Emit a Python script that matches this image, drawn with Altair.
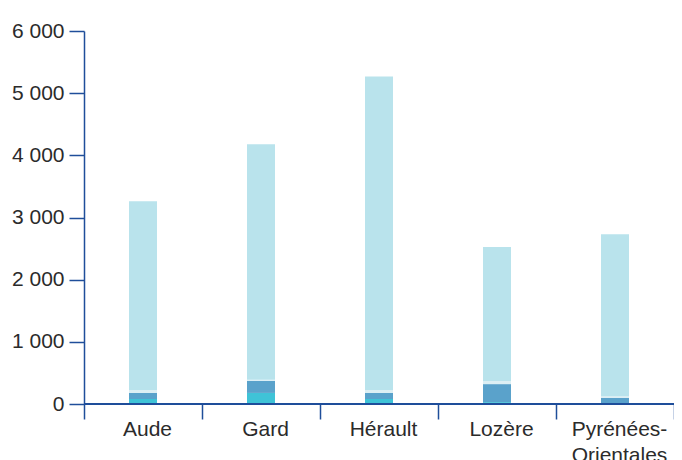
import altair as alt
import pandas as pd

departements = ["Aude", "Gard", "Hérault", "Lozère", "Pyrénées-Orientales"]
series = ["Série 1", "Série 2", "Série 3", "Série 4"]
serie1 = [80, 178, 80, 30, 15]
serie2 = [100, 195, 100, 290, 85]
serie3 = [45, 17, 45, 50, 25]
serie4 = [3035, 3790, 5045, 2154, 2605]
colors = ["#3FC3D7", "#5AA2CB", "#DCEFF4", "#B9E3EC"]
y_ticks = [0, 1000, 2000, 3000, 4000, 5000, 6000]

rows = []
for i, d in enumerate(departements):
    for k, (s, vals) in enumerate(zip(series, [serie1, serie2, serie3, serie4])):
        rows.append({"dep": d, "serie": s, "ordre": k, "valeur": vals[i]})
df = pd.DataFrame(rows)

axis_color = "#1F4E9A"
font = "Liberation Sans"

bars = alt.Chart(df).mark_bar(size=28).encode(
    x=alt.X("dep:N", sort=departements, title=None,
            scale=alt.Scale(paddingInner=0, paddingOuter=0),
            axis=alt.Axis(labelAngle=0, tickBand="extent", tickSize=15,
                          tickColor=axis_color, tickWidth=1.5,
                          domain=False, labelFont=font, labelFontSize=21,
                          labelColor="#2b2b2b", labelPadding=-1,
                          labelLineHeight=26, labelOffset=4,
                          labelExpr="datum.value == 'Pyrénées-Orientales' ? ['Pyrénées-', 'Orientales'] : datum.value")),
    y=alt.Y("valeur:Q", stack="zero", title=None,
            scale=alt.Scale(domain=[0, 6000], nice=False),
            axis=alt.Axis(values=y_ticks, tickSize=15, tickColor=axis_color,
                          tickWidth=1.5, domainColor=axis_color, domainWidth=1.5,
                          grid=False, labelFont=font, labelFontSize=21,
                          labelColor="#2b2b2b", labelPadding=5,
                          labelExpr="replace(format(datum.value, ','), ',', ' ')")),
    color=alt.Color("serie:N", scale=alt.Scale(domain=series, range=colors), legend=None),
    order=alt.Order("ordre:Q", sort="ascending"),
)

baseline = alt.Chart(df).mark_rule(color=axis_color, strokeWidth=1.5).encode(
    x=alt.value(0), x2=alt.value(590), y=alt.value(373)
)

chart = alt.layer(bars, baseline).properties(
    width=590, height=373,
    autosize=alt.AutoSizeParams(type="none"),
    padding={"left": 76, "top": 23, "right": 0, "bottom": 56},
).configure_view(stroke=None)

chart.save("out.html", embed_options={"renderer": "svg", "actions": False})
